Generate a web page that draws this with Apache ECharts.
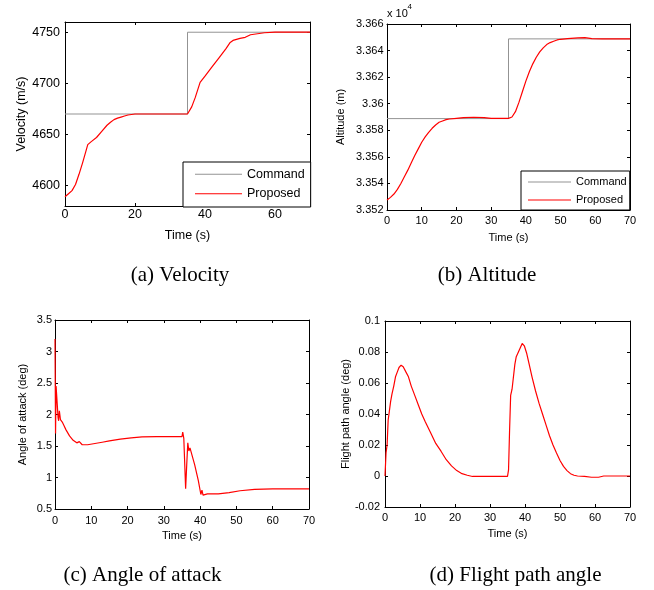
<!DOCTYPE html>
<html><head><meta charset="utf-8">
<script src="https://cdn.jsdelivr.net/npm/echarts@6/dist/echarts.min.js"></script>
<style>html,body{margin:0;padding:0;background:#fff}#c{width:654px;height:590px}</style>
</head><body><div id="c"></div>
<script>
// ---------- (a) Velocity ----------
const velT = [0, 1, 2, 3, 4, 5, 6, 6.5, 7.5, 9, 10.5, 12, 13, 14, 15, 16, 17, 18, 20, 25, 30, 35, 35.5, 36.2, 37.2, 38.6, 40, 42, 44, 46, 47.2, 48, 49, 50, 51.5, 53, 55, 57, 60, 65, 70];
const velProposed = [4589, 4592, 4595, 4601, 4611, 4622, 4634, 4640, 4643, 4647, 4653, 4659, 4662, 4664.5, 4666, 4667, 4668, 4669, 4670, 4670, 4670, 4670, 4671, 4677, 4686, 4701, 4707, 4716, 4725, 4734, 4740, 4742, 4743, 4744, 4745, 4747.5, 4748.5, 4749.5, 4750, 4750, 4750];
const velCmdT = [0, 35, 35, 70];
const velCommand = [4670, 4670, 4750, 4750];
const velYTicks = [4600, 4650, 4700, 4750];
const velXTicks = [0, 20, 40, 60];

// ---------- (b) Altitude ----------
const altT = [0, 1, 2, 3, 4, 5, 6, 7, 8, 9, 10, 11, 12, 13, 14, 15, 16, 17, 18, 20, 22, 25, 28, 30, 35, 35.5, 36, 37, 38, 39, 40, 41, 42, 43, 44, 45, 46, 47, 48, 49, 50, 52, 55, 57, 59, 62, 70];
const altProposed = [33527.5, 33529.5, 33532, 33535.5, 33540, 33545, 33550, 33555.5, 33561, 33566, 33571, 33575, 33578.5, 33581.5, 33584, 33586, 33587, 33588, 33588.5, 33589, 33589.5, 33589.8, 33589.5, 33589, 33589, 33589, 33590, 33594, 33601, 33609, 33617, 33624, 33630, 33635, 33639, 33642, 33644.5, 33646, 33647, 33648, 33648.5, 33649, 33649.5, 33649.7, 33649, 33648.8, 33648.8];
const altCmdT = [0, 35, 35, 70];
const altCommand = [33588.8, 33588.8, 33648.8, 33648.8];

// ---------- (c) Angle of attack ----------
const aoaT = [0, 0.15, 0.3, 0.45, 0.7, 0.85, 1.0, 1.2, 1.35, 1.5, 1.7, 2.0, 2.5, 3, 4, 5, 6, 6.7, 7, 7.5, 9, 11, 13, 15, 18, 21, 24, 28, 32, 35, 35.2, 35.5, 36.0, 36.3, 36.6, 36.9, 37.2, 37.5, 38.5, 39.5, 40.2, 40.5, 40.8, 41.2, 42, 45, 48, 51, 55, 60, 70];
const aoa = [3.2, 1.7, 2.45, 2.42, 2.45, 1.95, 1.9, 2.06, 2.07, 1.92, 1.9, 1.88, 1.82, 1.76, 1.66, 1.59, 1.55, 1.57, 1.54, 1.52, 1.52, 1.54, 1.56, 1.58, 1.61, 1.63, 1.645, 1.65, 1.65, 1.65, 1.72, 1.62, 0.82, 1.2, 1.55, 1.42, 1.47, 1.44, 1.2, 0.95, 0.73, 0.8, 0.72, 0.75, 0.74, 0.74, 0.76, 0.79, 0.81, 0.82, 0.82];

// ---------- (d) Flight path angle ----------
const fpaT = [0, 0.3, 0.6, 0.9, 1.2, 1.6, 2.0, 2.5, 3.0, 3.5, 4.0, 4.6, 5.2, 6, 6.7, 7.5, 8.5, 9.5, 10.5, 11.5, 13, 14.5, 16, 17.5, 19, 20.5, 22, 23.5, 25, 30, 35, 35.3, 35.6, 35.9, 36.3, 36.7, 37.1, 37.5, 37.9, 38.5, 39.2, 39.8, 40.5, 41.2, 42, 43, 44, 45, 46, 47, 48, 49, 50, 51, 52, 53, 54, 55, 57, 59, 61, 62.5, 70];
const fpa = [0, 0.015, 0.02, 0.036, 0.041, 0.048, 0.053, 0.058, 0.064, 0.067, 0.07, 0.0715, 0.0705, 0.067, 0.064, 0.058, 0.052, 0.046, 0.04, 0.035, 0.028, 0.021, 0.016, 0.0105, 0.0065, 0.0035, 0.0015, 0.0005, -0.0003, -0.0003, -0.0003, 0.004, 0.03, 0.052, 0.056, 0.057, 0.072, 0.077, 0.078, 0.082, 0.0855, 0.084, 0.079, 0.072, 0.064, 0.055, 0.047, 0.04, 0.033, 0.026, 0.02, 0.0148, 0.01, 0.0062, 0.0035, 0.0015, 0.0005, 0, -0.0003, -0.0008, -0.0008, 0, 0];

const captions = ['(a) Velocity', '(b) Altitude', '(c) Angle of attack', '(d) Flight path angle'];

const SANS = '"Liberation Sans", Arial, sans-serif';
const SERIF = '"Liberation Serif", "Times New Roman", serif';
function pairs(t, v) { return t.map((x, i) => [x, v[i]]); }

const grids = [
  {left: 65, top: 22, width: 245, height: 184},
  {left: 387, top: 24, width: 243, height: 186},
  {left: 55, top: 320, width: 254, height: 189},
  {left: 385, top: 321, width: 245, height: 186}
];

function axisPair(kind, g, o) {
  const base = {
    gridIndex: g, type: 'value', min: o.min, max: o.max, interval: o.interval,
    axisLine: {onZero: false, lineStyle: {color: '#000', width: 1}},
    splitLine: {show: false},
    axisTick: {inside: true, length: 3, lineStyle: {color: '#000', width: 1}}
  };
  if (o.custom) base.axisTick = Object.assign({}, base.axisTick, {customValues: o.custom});
  const main = Object.assign({}, base, {
    position: kind === 'x' ? 'bottom' : 'left',
    name: o.name, nameLocation: 'middle', nameGap: o.nameGap,
    nameRotate: kind === 'x' ? 0 : 90,
    nameTextStyle: {fontFamily: SANS, fontSize: o.fs, color: '#000'},
    axisLabel: {fontFamily: SANS, fontSize: o.fs, color: '#000', margin: o.margin,
      showMinLabel: true, showMaxLabel: true, formatter: o.formatter || (v => String(+v.toFixed(6)))}
  });
  if (o.custom) main.axisLabel.customValues = o.custom;
  const other = Object.assign({}, base, {
    position: kind === 'x' ? 'top' : 'right',
    axisLabel: {show: false}
  });
  return [main, other];
}

const altFmt = v => (v / 1e4).toFixed(4).replace(/0+$/, '').replace(/\.$/, '');

const xAxes = [].concat(
  axisPair('x', 0, {min: 0, max: 70, interval: 10, custom: velXTicks, name: 'Time (s)', nameGap: 23, fs: 12.5, margin: 2}),
  axisPair('x', 1, {min: 0, max: 70, interval: 10, name: 'Time (s)', nameGap: 22, fs: 11, margin: 5}),
  axisPair('x', 2, {min: 0, max: 70, interval: 10, name: 'Time (s)', nameGap: 21, fs: 11, margin: 6}),
  axisPair('x', 3, {min: 0, max: 70, interval: 10, name: 'Time (s)', nameGap: 21.5, fs: 11, margin: 5.5})
);
const yAxes = [].concat(
  axisPair('y', 0, {min: 4580, max: 4760, interval: 10, custom: velYTicks, name: 'Velocity (m/s)', nameGap: 37, fs: 12.5, margin: 5}),
  axisPair('y', 1, {min: 33520, max: 33660, interval: 20, name: 'Altitude (m)', nameGap: 41, fs: 11, margin: 3.5, formatter: altFmt}),
  axisPair('y', 2, {min: 0.5, max: 3.5, interval: 0.5, name: 'Angle of attack (deg)', nameGap: 27, fs: 11, margin: 3}),
  axisPair('y', 3, {min: -0.02, max: 0.1, interval: 0.02, name: 'Flight path angle (deg)', nameGap: 31, fs: 11, margin: 5})
);

const RED = '#ff0000', GRAY = '#939393';
function line(name, data, g, color, w) {
  return {name, type: 'line', xAxisIndex: 2 * g, yAxisIndex: 2 * g, data, symbol: 'none',
    showSymbol: false, animation: false, lineStyle: {color, width: w}, itemStyle: {color}, silent: true};
}

const series = [
  line('Command', pairs(velCmdT, velCommand), 0, GRAY, 1),
  line('Proposed', pairs(velT, velProposed), 0, RED, 1.2),
  line('Command', pairs(altCmdT, altCommand), 1, GRAY, 1),
  line('Proposed', pairs(altT, altProposed), 1, RED, 1.2),
  line('Angle of attack', pairs(aoaT, aoa), 2, RED, 1.2),
  line('Flight path angle', pairs(fpaT, fpa), 3, RED, 1.2)
];

const legendCommon = {
  data: ['Command', 'Proposed'], orient: 'vertical', borderColor: '#000', borderWidth: 1,
  backgroundColor: '#fff', borderRadius: 0, selectedMode: false, z: 10, icon: 'rect'
};

const option = {
  animation: false,
  backgroundColor: '#fff',
  grid: grids.map(g => Object.assign({containLabel: false}, g)),
  xAxis: xAxes,
  yAxis: yAxes,
  legend: [
    Object.assign({}, legendCommon, {left: 183, top: 162, padding: [5.75, 6, 6.75, 12], itemGap: 6.5,
      itemWidth: 47, itemHeight: 1.2, textStyle: {fontFamily: SANS, fontSize: 12.5, color: '#000', lineHeight: 12.5}}),
    Object.assign({}, legendCommon, {left: 521, top: 171, padding: [5.5, 3, 4.5, 7], itemGap: 7,
      itemWidth: 43, itemHeight: 1.2, textStyle: {fontFamily: SANS, fontSize: 11, color: '#000', lineHeight: 11}})
  ],
  graphic: [
    {type: 'text', x: 180, y: 275, style: {text: captions[0], font: '21px ' + SERIF, fill: '#000', align: 'center', verticalAlign: 'middle'}},
    {type: 'text', x: 487, y: 275, style: {text: captions[1], font: '21px ' + SERIF, fill: '#000', align: 'center', verticalAlign: 'middle'}},
    {type: 'text', x: 142.5, y: 575, style: {text: captions[2], font: '21px ' + SERIF, fill: '#000', align: 'center', verticalAlign: 'middle'}},
    {type: 'text', x: 515.5, y: 575, style: {text: captions[3], font: '21px ' + SERIF, fill: '#000', align: 'center', verticalAlign: 'middle'}},
    {type: 'text', x: 387, y: 13.5, style: {text: 'x 10', font: '11px ' + SANS, fill: '#000', align: 'left', verticalAlign: 'middle'}},
    {type: 'text', x: 407.5, y: 6.5, style: {text: '4', font: '8px ' + SANS, fill: '#000', align: 'left', verticalAlign: 'middle'}}
  ],
  series
};

const chart = echarts.init(document.getElementById('c'), null, {renderer: 'canvas'});
chart.setOption(option);
</script>
</body></html>
